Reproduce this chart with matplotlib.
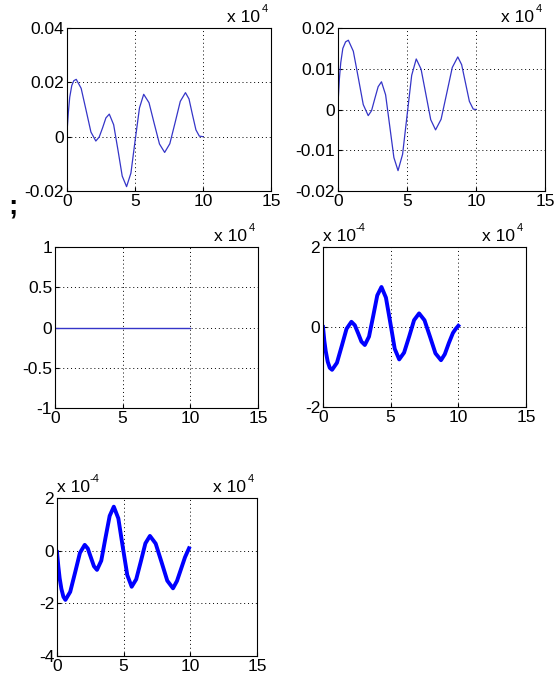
import matplotlib
matplotlib.use('Agg')
import matplotlib.pyplot as plt

plt.rcParams['font.family'] = ['Liberation Sans', 'DejaVu Sans']
plt.rcParams['axes.unicode_minus'] = False

# time in units of 1e4
t1 = [0, 0.1, 0.2, 0.35, 0.5, 0.68, 1.04, 1.40, 1.76, 2.12, 2.37, 2.62, 2.86,
      3.11, 3.43, 3.75, 4.06, 4.38, 4.70, 5.01, 5.33, 5.64, 6.03, 6.41, 6.80,
      7.18, 7.56, 7.95, 8.33, 8.71, 8.97, 9.22, 9.48, 9.73, 10.0]
sig1 = [0.0017, 0.009, 0.0145, 0.0188, 0.0206, 0.0211, 0.0178, 0.0098, 0.0017,
        -0.0016, -0.0001, 0.0033, 0.0069, 0.0083, 0.0044, -0.0050, -0.0145,
        -0.0184, -0.0134, -0.0014, 0.0106, 0.0156, 0.0125, 0.0049, -0.0027,
        -0.0058, -0.0026, 0.0052, 0.0130, 0.0162, 0.0139, 0.0082, 0.0025,
        0.0002, 0.0]

t2 = [0, 0.1, 0.2, 0.35, 0.55, 0.75, 1.11, 1.47, 1.83, 2.19, 2.43, 2.67, 2.91,
      3.15, 3.45, 3.75, 4.05, 4.35, 4.68, 5.01, 5.34, 5.67, 6.02, 6.37, 6.72,
      7.07, 7.47, 7.88, 8.28, 8.68, 8.96, 9.24, 9.52, 9.8, 10.0]
sig2 = [0.0014, 0.0075, 0.0115, 0.015, 0.0166, 0.017, 0.0143, 0.0078, 0.0012,
        -0.0015, -0.0003, 0.0027, 0.0056, 0.0068, 0.0036, -0.0041, -0.0118,
        -0.015, -0.011, -0.0013, 0.0084, 0.0124, 0.0099, 0.0037, -0.0025,
        -0.005, -0.0024, 0.004, 0.0103, 0.0129, 0.011, 0.0065, 0.002,
        0.0001, 0.0]

t3 = [0, 10]
sig3 = [0, 0]

# values in units of 1e-4
t4 = [0, 0.1, 0.2, 0.35, 0.5, 0.67, 1.03, 1.39, 1.74, 2.1, 2.35, 2.6, 2.84,
      3.09, 3.40, 3.71, 4.01, 4.32, 4.65, 4.98, 5.30, 5.63, 5.99, 6.37, 6.73,
      7.1, 7.50, 7.91, 8.31, 8.72, 9.0, 9.3, 9.6, 9.8, 10.0]
sig4 = [0.0, -0.35, -0.6, -0.87, -1.02, -1.07, -0.895, -0.47, -0.045, 0.13,
        0.045, -0.16, -0.365, -0.45, -0.24, 0.275, 0.79, 1.0, 0.735, 0.095,
        -0.546, -0.81, -0.642, -0.235, 0.172, 0.34, 0.169, -0.245, -0.659,
        -0.83, -0.68, -0.4, -0.15, -0.05, 0.03]

t5 = [0, 0.1, 0.2, 0.33, 0.48, 0.63, 0.99, 1.36, 1.72, 2.08, 2.31, 2.54, 2.77,
      3.0, 3.32, 3.63, 3.95, 4.26, 4.60, 4.93, 5.27, 5.6, 5.94, 6.29, 6.63,
      6.97, 7.40, 7.84, 8.27, 8.7, 9.0, 9.3, 9.6, 9.9]
sig5 = [-0.05, -0.6, -1.05, -1.45, -1.75, -1.87, -1.565, -0.825, -0.085, 0.22,
        0.081, -0.255, -0.591, -0.73, -0.38, 0.47, 1.32, 1.67, 1.226, 0.15,
        -0.926, -1.37, -1.088, -0.405, 0.278, 0.56, 0.27, -0.435, -1.14, -1.43,
        -1.15, -0.7, -0.25, 0.09]

W, H = 555, 679
fig = plt.figure(figsize=(W / 100, H / 100), dpi=100)


def make_axes(l, r, top, bot):
    return fig.add_axes([l / W, 1 - bot / H, (r - l) / W, (bot - top) / H])


def exp_label(ax, x, ha, power):
    # MATLAB style "x 10^n" multiplier written above the axes
    if ha == 'right':
        ax.annotate(power, xy=(x, 1.0), xycoords='axes fraction',
                    xytext=(-2, 10), textcoords='offset points',
                    ha='right', va='bottom', fontsize=8)
        ax.annotate('x 10', xy=(x, 1.0), xycoords='axes fraction',
                    xytext=(-8, 2), textcoords='offset points',
                    ha='right', va='bottom', fontsize=12.5)
    else:
        ax.annotate('x 10', xy=(x, 1.0), xycoords='axes fraction',
                    xytext=(0, 2), textcoords='offset points',
                    ha='left', va='bottom', fontsize=12.5)
        ax.annotate(power, xy=(x, 1.0), xycoords='axes fraction',
                    xytext=(23.5, 10), textcoords='offset points',
                    ha='left', va='bottom', fontsize=8)


def style(ax, ylim, yticks, ylabels, exp_y=False):
    ax.set_xlim(0, 15)
    ax.set_xticks([0, 5, 10, 15])
    ax.set_ylim(*ylim)
    ax.set_yticks(yticks)
    ax.set_yticklabels(ylabels)
    ax.tick_params(direction='in', length=3, labelsize=12.5, pad=2)
    ax.grid(True, linestyle=(0, (1, 3)), color='k', linewidth=0.7)
    for s in ax.spines.values():
        s.set_linewidth(0.8)
    exp_label(ax, 1.0, 'right', '4')
    if exp_y:
        exp_label(ax, 0.0, 'left', '-4')


thin = '#3535c8'

ax1 = make_axes(67, 271, 28, 191)
ax1.plot(t1, sig1, color=thin, linewidth=0.9)
style(ax1, (-0.02, 0.04), [-0.02, 0, 0.02, 0.04], ['-0.02', '0', '0.02', '0.04'])

ax2 = make_axes(338, 545, 28, 191)
ax2.plot(t2, sig2, color=thin, linewidth=0.9)
style(ax2, (-0.02, 0.02), [-0.02, -0.01, 0, 0.01, 0.02],
      ['-0.02', '-0.01', '0', '0.01', '0.02'])

ax3 = make_axes(55, 258, 247, 408)
ax3.plot(t3, sig3, color=thin, linewidth=1.0)
style(ax3, (-1, 1), [-1, -0.5, 0, 0.5, 1], ['-1', '-0.5', '0', '0.5', '1'])

ax4 = make_axes(323, 526, 247, 407)
ax4.plot(t4, sig4, color='#0000ff', linewidth=2.8)
style(ax4, (-2, 2), [-2, 0, 2], ['-2', '0', '2'], exp_y=True)

ax5 = make_axes(57, 257, 498, 656)
ax5.plot(t5, sig5, color='#0000ff', linewidth=2.8)
style(ax5, (-4, 2), [-4, -2, 0, 2], ['-4', '-2', '0', '2'], exp_y=True)

fig.text(13 / W, 1 - 207 / H, ';', fontsize=20, fontweight='bold',
         ha='center', va='center')

fig.savefig('out.png', dpi=100)
